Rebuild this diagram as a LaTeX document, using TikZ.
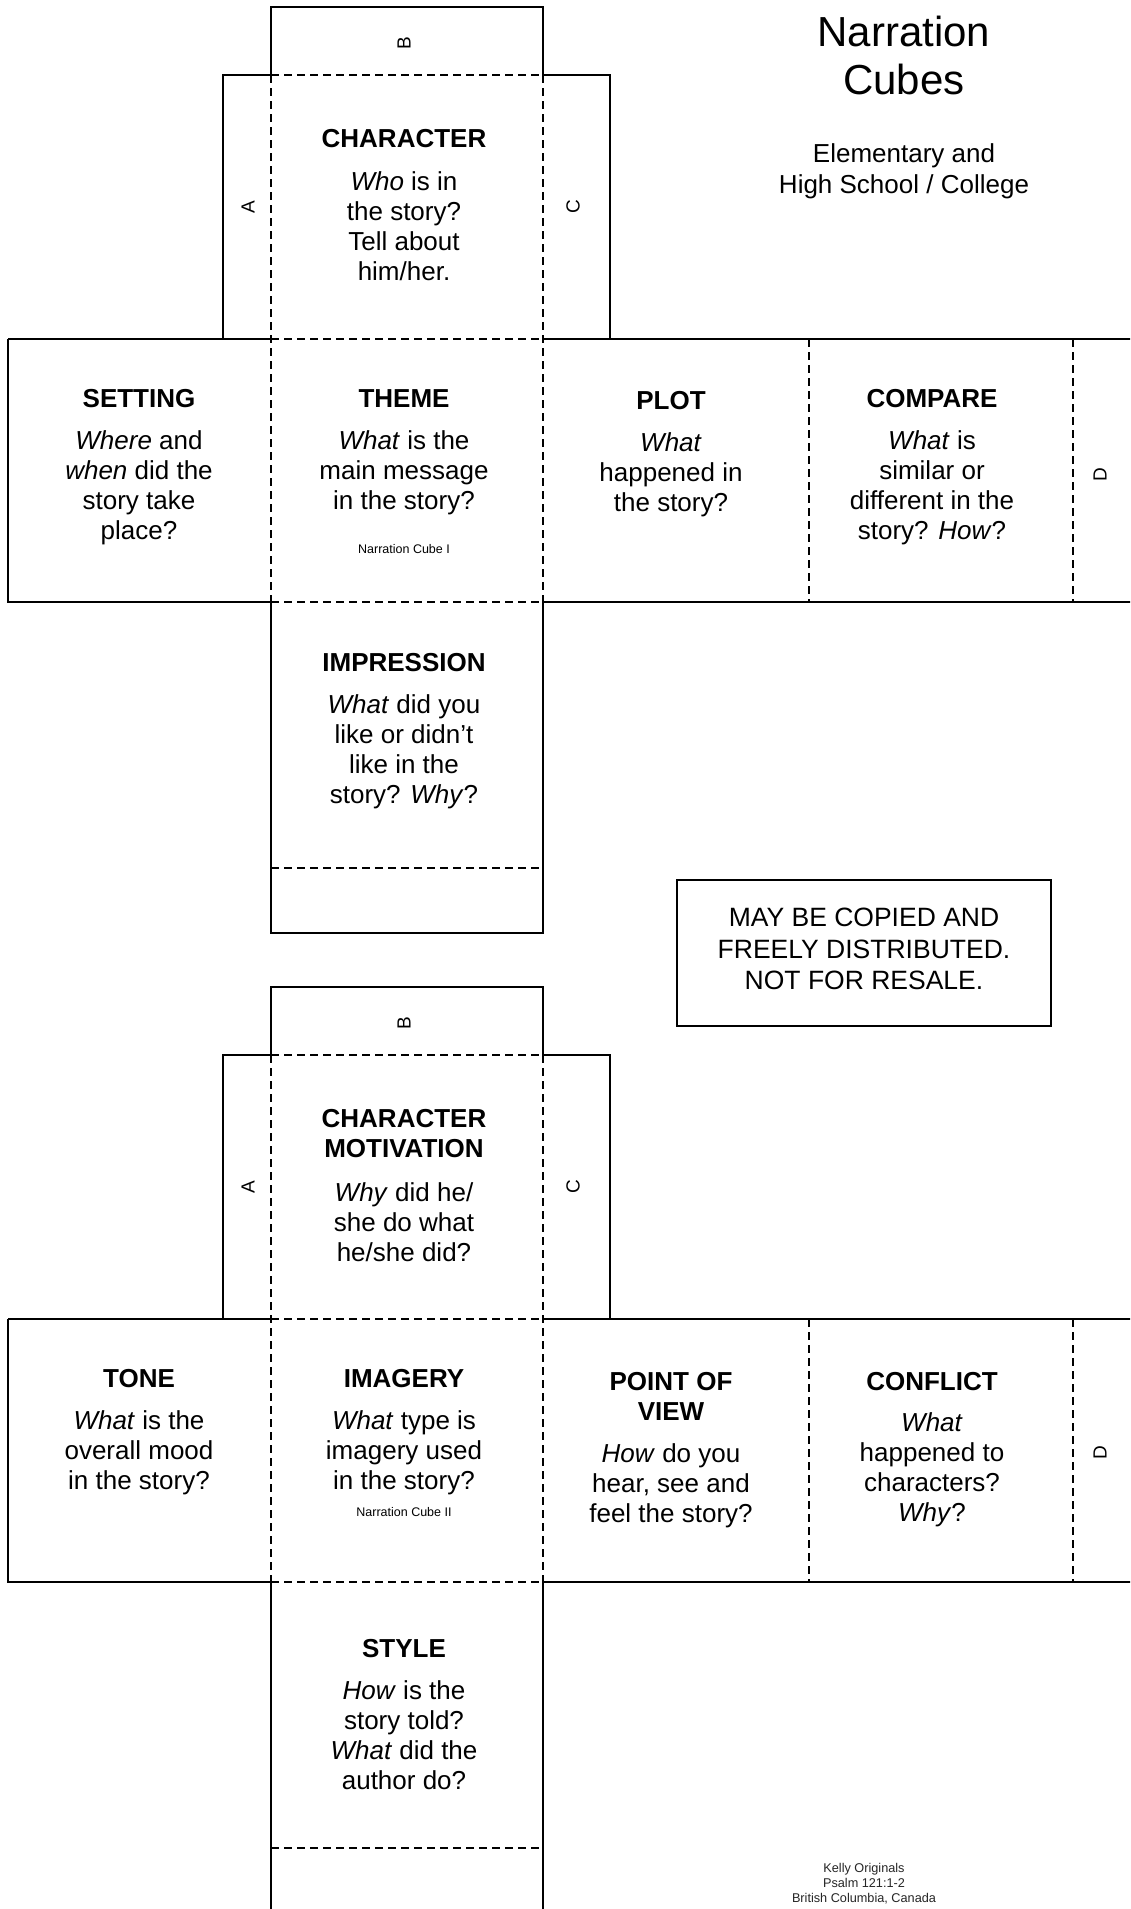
\documentclass[tikz,border=0pt]{standalone}
\usepackage{fontspec}
\setmainfont{Liberation Sans}
\begin{document}
\begin{tikzpicture}[x=1pt,y=-1pt,
  solidline/.style={line width=1.6pt, line cap=butt},
  cutline/.style={line width=1.6pt, dash pattern=on 8pt off 5pt},
  face/.style={align=center, inner sep=0pt, anchor=north, font=\fontsize{26}{30}\selectfont},
  tiny/.style={inner sep=0pt, font=\fontsize{12.5}{15}\selectfont},
  flapletter/.style={inner sep=0pt, rotate=90, font=\fontsize{19}{22}\selectfont}]
\useasboundingbox (0,0) rectangle (1130,1909);
\clip (0,0) rectangle (1130,1909);
\fill[white] (0,0) rectangle (1130,1909);
\newcommand\cubeoutline{%
  \draw[solidline] (271,75) -- (271,7) -- (543,7) -- (543,75);
  \draw[solidline] (271,75) -- (223,75) -- (223,339);
  \draw[solidline] (543,75) -- (610,75) -- (610,339);
  \draw[solidline] (8,339) -- (271,339);
  \draw[solidline] (543,339) -- (1140,339);
  \draw[solidline] (271,602) -- (8,602) -- (8,339);
  \draw[solidline] (543,602) -- (1140,602);
  \draw[solidline] (271,602) -- (271,933) -- (543,933) -- (543,602);
  \draw[cutline] (271,75) -- (543,75);
  \draw[cutline] (271,339) -- (543,339);
  \draw[cutline] (271,602) -- (543,602);
  \draw[cutline] (271,868) -- (543,868);
  \draw[cutline] (271,75) -- (271,602);
  \draw[cutline] (543,75) -- (543,602);
  \draw[cutline] (809,339) -- (809,602);
  \draw[cutline] (1073,339) -- (1073,602);
}
\cubeoutline
\begin{scope}[shift={(0,980)}]
\cubeoutline
\end{scope}

% title
\node[inner sep=0pt, anchor=north, align=center, font=\fontsize{42}{48}\selectfont] (title) at (904,14)
  {\rule{0pt}{32pt}Narration\\Cubes};
\node[inner sep=0pt, anchor=north, align=center, font=\fontsize{26}{31}\selectfont] (subtitle) at (904,142.5)
  {\rule{0pt}{20pt}Elementary and\\High School / College};

% cube 1
\node[face] (c1char) at (404,127) {\rule{0pt}{20pt}\textbf{CHARACTER}\\[13pt]\textit{Who} is in\\the story?\\Tell about\\him/her.};
\node[face] (c1set) at (139,387) {\rule{0pt}{20pt}\textbf{SETTING}\\[12pt]\textit{Where} and\\\textit{when} did the\\story take\\place?};
\node[face] (c1theme) at (404,387) {\rule{0pt}{20pt}\textbf{THEME}\\[12pt]\textit{What} is the\\main message\\in the story?};
\node[tiny] (c1label) at (404,549) {Narration Cube I};
\node[face] (c1plot) at (671,389) {\rule{0pt}{20pt}\textbf{PLOT}\\[12pt]\textit{What}\\happened in\\the story?};
\node[face] (c1comp) at (932,387) {\rule{0pt}{20pt}\textbf{COMPARE}\\[12pt]\textit{What} is\\similar or\\different in the\\story? \textit{How}?};
\node[face] (c1imp) at (404,651) {\rule{0pt}{20pt}\textbf{IMPRESSION}\\[12pt]\textit{What} did you\\like or didn’t\\like in the\\story? \textit{Why}?};
\node[flapletter] (c1A) at (248,207) {A};
\node[flapletter] (c1B) at (404,43) {B};
\node[flapletter] (c1C) at (573,207) {C};
\node[flapletter] (c1D) at (1100,475) {D};

% notice box
\draw[line width=2.5pt] (677,880) rectangle (1051,1026);
\node[inner sep=0pt, anchor=north, align=center, font=\fontsize{26.5}{31.5}\selectfont] (notice) at (864,906.5)
  {\rule{0pt}{20pt}MAY BE COPIED AND\\FREELY DISTRIBUTED.\\NOT FOR RESALE.};

% cube 2
\node[face] (c2char) at (404,1107) {\rule{0pt}{20pt}\textbf{CHARACTER}\\\textbf{MOTIVATION}\\[14pt]\textit{Why} did he/\\she do what\\he/she did?};
\node[face] (c2tone) at (139,1367) {\rule{0pt}{20pt}\textbf{TONE}\\[12pt]\textit{What} is the\\overall mood\\in the story?};
\node[face] (c2img) at (404,1367) {\rule{0pt}{20pt}\textbf{IMAGERY}\\[12pt]\textit{What} type is\\imagery used\\in the story?};
\node[tiny] (c2label) at (404,1512) {Narration Cube II};
\node[face] (c2pov) at (671,1370) {\rule{0pt}{20pt}\textbf{POINT OF}\\\textbf{VIEW}\\[12pt]\textit{How} do you\\hear, see and\\feel the story?};
\node[face] (c2conf) at (932,1370) {\rule{0pt}{20pt}\textbf{CONFLICT}\\[11pt]\textit{What}\\happened to\\characters?\\\textit{Why}?};
\node[face] (c2style) at (404,1637) {\rule{0pt}{20pt}\textbf{STYLE}\\[12pt]\textit{How} is the\\story told?\\\textit{What} did the\\author do?};
\node[flapletter] (c2A) at (248,1187) {A};
\node[flapletter] (c2B) at (404,1023) {B};
\node[flapletter] (c2C) at (573,1187) {C};
\node[flapletter] (c2D) at (1100,1453) {D};

% credits
\node[inner sep=0pt, anchor=north, align=center, text=black!85, font=\fontsize{12.7}{15}\selectfont] (credit) at (864,1862.5)
  {\rule{0pt}{10pt}Kelly Originals\\Psalm 121:1-2\\British Columbia, Canada};
\end{tikzpicture}
\end{document}
